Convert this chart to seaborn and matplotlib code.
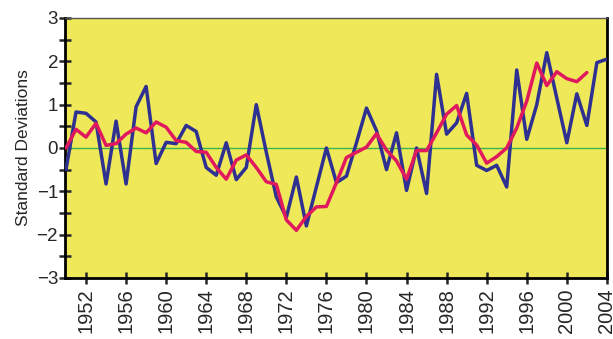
import numpy as np
import pandas as pd
import matplotlib
matplotlib.use('Agg')
import matplotlib.pyplot as plt
import seaborn as sns

# ── DATA ──────────────────────────────────────────────────────
years_blue = list(range(1950, 2005))
annual = [-0.50, 0.83, 0.80, 0.60, -0.83, 0.62, -0.83, 0.95, 1.42, -0.36,
          0.13, 0.10, 0.52, 0.38, -0.45, -0.63, 0.12, -0.73, -0.45, 1.00,
          -0.10, -1.13, -1.60, -0.67, -1.80, -0.90, 0.00, -0.80, -0.65, 0.12,
          0.92, 0.40, -0.50, 0.35, -0.98, 0.00, -1.05, 1.70, 0.32, 0.58,
          1.26, -0.40, -0.52, -0.40, -0.90, 1.80, 0.20, 1.00, 2.20, 1.15,
          0.12, 1.25, 0.52, 1.97, 2.05]

years_red = list(range(1950, 2003))
smoothed = [0.00, 0.43, 0.25, 0.57, 0.06, 0.10, 0.32, 0.46, 0.35, 0.60,
            0.48, 0.17, 0.13, -0.08, -0.10, -0.45, -0.72, -0.28, -0.16, -0.45,
            -0.78, -0.84, -1.66, -1.90, -1.58, -1.36, -1.35, -0.80, -0.22, -0.10,
            0.02, 0.33, -0.05, -0.30, -0.72, -0.06, -0.06, 0.35, 0.78, 0.98,
            0.30, 0.07, -0.35, -0.20, 0.00, 0.46, 1.08, 1.96, 1.44, 1.76,
            1.60, 1.53, 1.74]

xticks = list(range(1952, 2005, 4))

df_blue = pd.DataFrame({'year': years_blue, 'sd': annual})
df_red = pd.DataFrame({'year': years_red, 'sd': smoothed})

# ── STYLE ─────────────────────────────────────────────────────
sns.set_style("white")
plt.rcParams['font.family'] = ['Liberation Sans', 'DejaVu Sans']

fig = plt.figure(figsize=(6.13, 3.39), dpi=100)
ax = fig.add_axes([0.106, 0.180, 0.884, 0.767])
ax.set_facecolor('#EFE95A')

ax.axhline(0, color='#39B54A', linewidth=1.0, zorder=1)
sns.lineplot(data=df_blue, x='year', y='sd', ax=ax, color='#2E3192',
             linewidth=2.5, zorder=3)
sns.lineplot(data=df_red, x='year', y='sd', ax=ax, color='#E0195E',
             linewidth=2.5, zorder=4)

ax.set_xlim(1949.9, 2004)
ax.set_ylim(-3, 3)
ax.set_xticks(xticks)
ax.set_xticklabels([str(y) for y in xticks], rotation=90, fontsize=14.5)
ax.set_yticks(np.arange(-3, 3.1, 1))
ax.set_yticks(np.arange(-2.5, 3, 1), minor=True)
ax.tick_params(axis='y', which='both', direction='inout', length=8, width=1.8,
               labelsize=13.5, pad=1, left=True)
ax.tick_params(axis='x', which='major', direction='inout', length=9, width=1.8,
               pad=3, bottom=True)
ax.set_xlabel('')
ax.set_ylabel('Standard Deviations', fontsize=12.5, labelpad=4)

for side in ['left', 'bottom', 'right']:
    ax.spines[side].set_linewidth(2)
    ax.spines[side].set_color('black')
ax.spines['top'].set_linewidth(1)
ax.spines['top'].set_color('#555555')

plt.savefig('out.png', dpi=100)
